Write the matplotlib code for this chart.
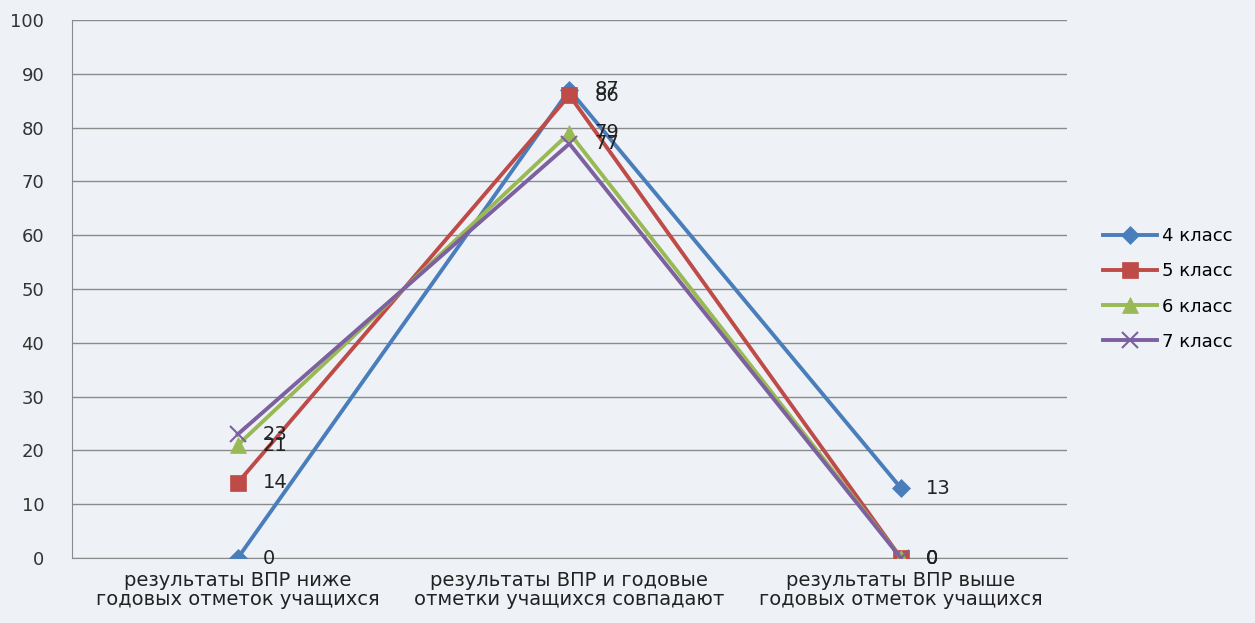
import matplotlib.pyplot as plt
import numpy as np

categories = ["результаты ВПР ниже\nгодовых отметок учащихся",
              "результаты ВПР и годовые\nотметки учащихся совпадают",
              "результаты ВПР выше\nгодовых отметок учащихся"]
series_names = ["4 класс", "5 класс", "6 класс", "7 класс"]
grade4 = [0, 87, 13]
grade5 = [14, 86, 0]
grade6 = [21, 79, 0]
grade7 = [23, 77, 0]

colors = ["#4A7EBB", "#BE4B48", "#98B954", "#7D60A0"]
markers = ["D", "s", "^", "x"]
msizes = [9, 11, 11, 11]

bg = "#EEF2F7"
fig = plt.figure(figsize=[12.55, 6.23], dpi=100, facecolor=bg)
ax = fig.add_axes([0.0574, 0.1043, 0.7926, 0.8637], facecolor=bg)

x = np.arange(len(categories))
for vals, name, c, m, ms in zip([grade4, grade5, grade6, grade7], series_names, colors, markers, msizes):
    ax.plot(x, vals, color=c, lw=2.8, marker=m, markersize=ms, mew=1.5 if m == "x" else 0.5,
            mec=c, label=name, zorder=3)
    for xi, v in zip(x, vals):
        ax.annotate(str(v), (xi, v), xytext=(18, 0), textcoords="offset points",
                    va="center", ha="left", fontsize=14, color="#222222", zorder=4)

ax.set_xlim(-0.5, 2.5)
ax.set_ylim(0, 100)
ax.set_yticks(range(0, 101, 10))
ax.set_xticks(x)
ax.set_xticklabels(categories, fontsize=14, color="#222222", linespacing=1.05)
ax.tick_params(axis="y", labelsize=13, colors="#333333", length=0, pad=20)
ax.tick_params(axis="x", length=0, pad=9)
ax.grid(axis="y", color="#8A8A8A", lw=1)
ax.set_axisbelow(True)
for s in ["top", "right"]:
    ax.spines[s].set_visible(False)
ax.spines["left"].set_color("#8A8A8A")
ax.spines["bottom"].set_color("#8A8A8A")

leg = ax.legend(loc="center left", bbox_to_anchor=(1.02, 0.5), frameon=False,
                fontsize=13, handlelength=3.0, labelspacing=0.95, handletextpad=0.3)

fig.savefig("out.png", dpi=100, facecolor=bg)
